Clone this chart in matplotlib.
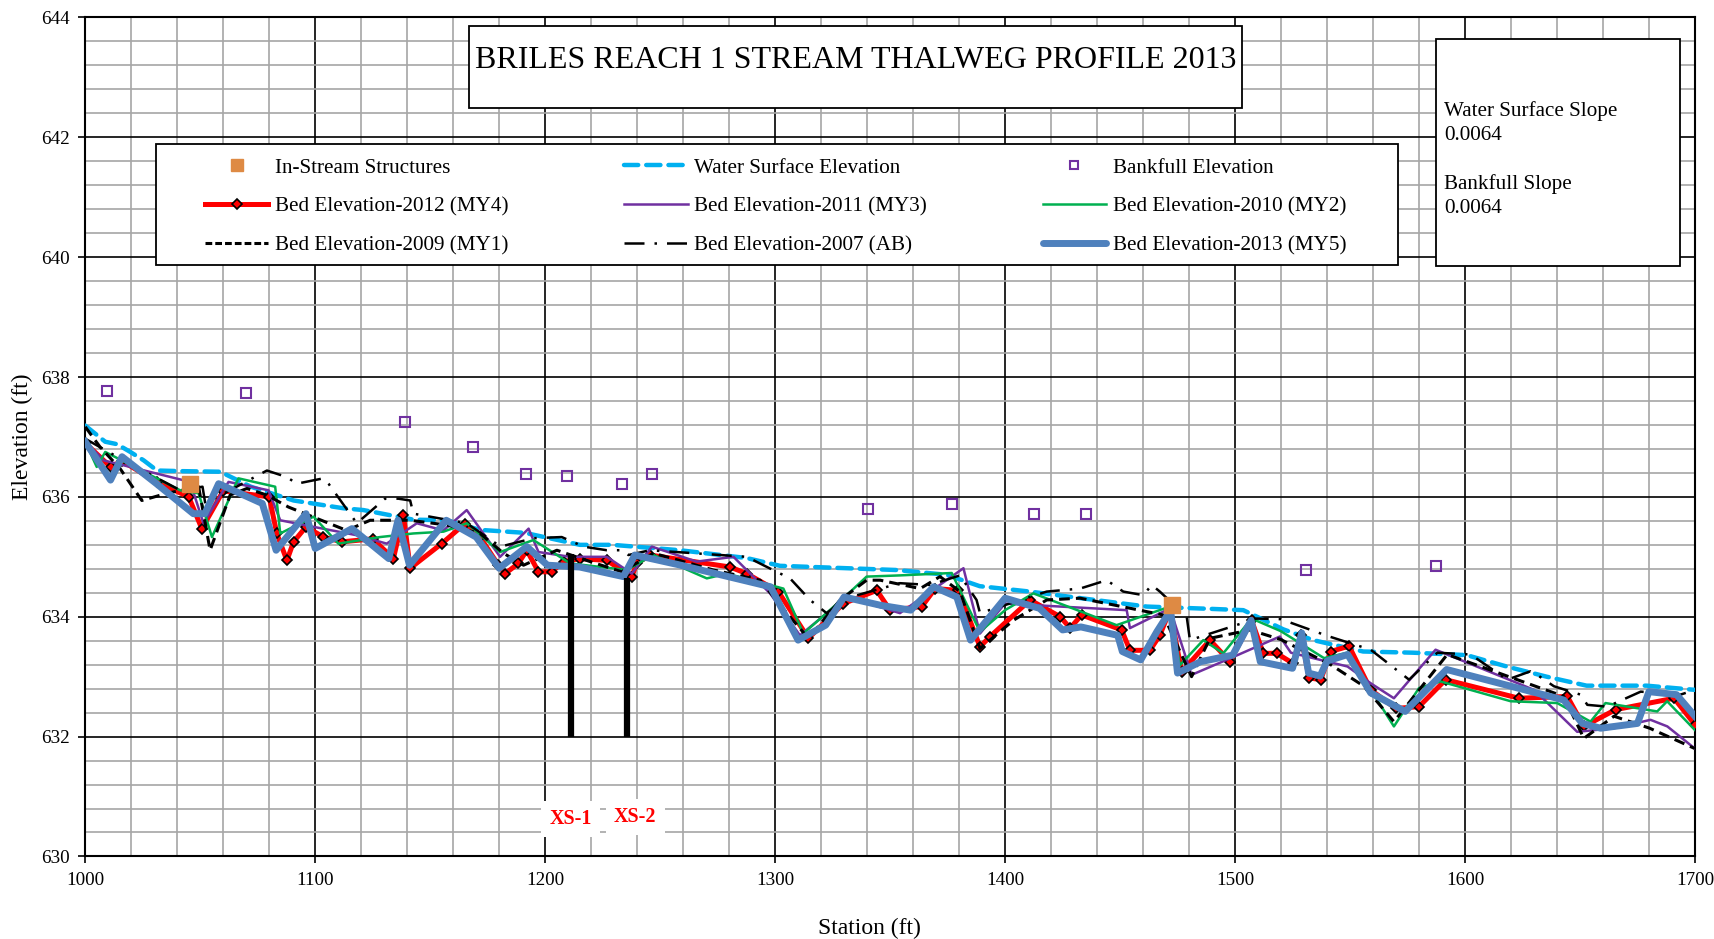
import matplotlib
matplotlib.use("Agg")
import matplotlib.pyplot as plt
from matplotlib.lines import Line2D
from matplotlib.patches import Rectangle
from matplotlib.ticker import MultipleLocator

plt.rcParams['font.family'] = ['Liberation Serif', 'DejaVu Serif']

# ---------------- data ----------------
structure_station = [1045.7, 1472.7]
structure_elev = [636.21, 634.20]

bankfull_station = [1009.5, 1069.9, 1138.9, 1168.8, 1191.6, 1209.7, 1233.5, 1246.3,
                    1340.5, 1377.1, 1412.8, 1435.1, 1530.7, 1587.3]
bankfull_elev = [637.76, 637.74, 637.25, 636.83, 636.39, 636.35, 636.21, 636.39,
                 635.79, 635.88, 635.71, 635.71, 634.78, 634.84]

ws_station = [1000, 1008.7, 1013.8, 1019.6, 1025.4, 1031.2, 1041.3, 1058.7, 1072, 1090.6,
              1112.3, 1121, 1142.7, 1157.2, 1171.6, 1191.2, 1215.1, 1229.2, 1258.6, 1287.6,
              1302.1, 1352.8, 1374.6, 1389, 1410.8, 1426.8, 1461.6, 1490.5, 1503.6, 1521,
              1534, 1555.7, 1577.5, 1600.7, 1618.1, 1635.5, 1652.9, 1679, 1700]
ws_elev = [637.19, 636.92, 636.88, 636.75, 636.61, 636.44, 636.43, 636.42, 636.17, 635.94,
           635.81, 635.78, 635.62, 635.61, 635.45, 635.40, 635.20, 635.20, 635.11, 634.98,
           634.85, 634.78, 634.70, 634.51, 634.42, 634.34, 634.17, 634.13, 634.11, 633.79,
           633.61, 633.42, 633.40, 633.36, 633.17, 633.00, 632.85, 632.85, 632.78]

bed2012_station = [1000, 1011, 1016, 1031, 1045, 1050.7, 1060, 1080, 1083.3, 1087.7,
                   1090.6, 1096, 1103.6, 1111.6, 1125, 1134, 1138.4, 1141.3, 1155, 1165,
                   1171.7, 1179.7, 1182.6, 1188.4, 1192, 1197.1, 1202.9, 1208, 1215.2, 1226.8,
                   1237.7, 1239.8, 1245.6, 1280.4, 1287.7, 1301.4, 1314.5, 1329.7, 1344.2, 1350,
                   1363.8, 1369.6, 1379.7, 1389.1, 1393.5, 1410.9, 1424, 1428.3, 1433.3, 1450.7,
                   1454.3, 1463, 1467.3, 1471.7, 1476.8, 1489.1, 1497.8, 1507.2, 1512.3, 1518.1,
                   1525.3, 1528.6, 1532.2, 1537.3, 1541.6, 1549.6, 1559, 1569.9, 1580, 1591.6,
                   1623.5, 1644.5, 1651.7, 1665.5, 1690.9, 1700]
bed2012_elev = [636.90, 636.50, 636.60, 636.25, 636.00, 635.47, 636.10, 636.00, 635.39, 634.94,
                635.25, 635.50, 635.33, 635.25, 635.30, 634.97, 635.69, 634.81, 635.22, 635.55,
                635.33, 634.86, 634.72, 634.89, 635.11, 634.75, 634.75, 634.92, 634.97, 634.94,
                634.67, 634.89, 635.03, 634.83, 634.72, 634.42, 633.64, 634.22, 634.44, 634.11,
                634.17, 634.47, 634.44, 633.50, 633.67, 634.28, 634.00, 633.81, 634.03, 633.78,
                633.44, 633.44, 633.69, 634.11, 633.08, 633.61, 633.25, 633.94, 633.39, 633.39,
                633.22, 633.70, 632.98, 632.95, 633.42, 633.51, 632.78, 632.47, 632.50, 632.95,
                632.64, 632.67, 632.17, 632.45, 632.64, 632.20]

bed2011_station = [1000, 1008, 1045.6, 1051.4, 1062.3, 1079.7, 1084.8, 1099.3, 1118.1, 1131.1,
                   1144.2, 1155.8, 1165.9, 1180.4, 1192.8, 1197.1, 1210.9, 1226.8, 1237.7, 1246.4,
                   1265.9, 1281.9, 1297.8, 1310.8, 1331.1, 1354.3, 1381.9, 1389.1, 1400, 1452.9,
                   1454.3, 1471.7, 1481.1, 1499.3, 1519.5, 1524.3, 1548.9, 1559, 1569.1, 1587.2,
                   1630, 1648.8, 1664.8, 1680.7, 1688, 1700]
bed2011_elev = [636.92, 636.61, 636.25, 635.56, 636.25, 636.11, 635.61, 635.50, 635.36, 635.22,
                635.56, 635.44, 635.78, 635.00, 635.47, 635.08, 635.00, 635.00, 634.72, 635.17,
                634.92, 635.00, 634.39, 633.69, 634.33, 634.06, 634.81, 633.72, 634.22, 634.11,
                633.81, 634.14, 633.03, 633.33, 633.67, 633.40, 633.17, 632.89, 632.64, 633.45,
                632.78, 632.08, 632.14, 632.28, 632.17, 631.80]

bed2010_station = [1000, 1005, 1008.7, 1041.3, 1049.3, 1055.1, 1066.6, 1082.6, 1084.8, 1099.3,
                   1110.1, 1128.2, 1142.7, 1155.8, 1165.9, 1180.4, 1194.9, 1210.9, 1235.5, 1247.1,
                   1270.3, 1279, 1303.6, 1312.3, 1331.1, 1339.8, 1354.3, 1376.8, 1380.4, 1389.1,
                   1400, 1412.3, 1448.5, 1471.7, 1476, 1486.2, 1494.9, 1507.2, 1519.9, 1538.7,
                   1548.9, 1569.1, 1580, 1589.4, 1619.9, 1640.1, 1654.6, 1661.1, 1683.6, 1687.9,
                   1700]
bed2010_elev = [636.92, 636.50, 636.75, 636.11, 636.06, 635.33, 636.31, 636.17, 635.39, 635.67,
                635.22, 635.33, 635.39, 635.42, 635.56, 635.08, 635.28, 634.89, 634.78, 635.03,
                634.64, 634.72, 634.47, 633.72, 634.36, 634.67, 634.69, 634.73, 634.44, 633.75,
                634.11, 634.39, 633.86, 634.17, 633.19, 633.61, 633.39, 633.97, 633.76, 633.31,
                633.40, 632.17, 632.81, 632.92, 632.59, 632.56, 632.25, 632.56, 632.42, 632.59,
                632.11]

bed2009_station = [1000, 1006.5, 1015.2, 1024.6, 1035.5, 1049.3, 1054.3, 1063, 1070.3, 1079,
                   1088.4, 1113.7, 1123.9, 1141.3, 1157.2, 1171.7, 1181.9, 1190.6, 1205.1, 1219.6,
                   1233.3, 1247.1, 1273.2, 1293.5, 1305.1, 1314.5, 1328.3, 1339.8, 1345.7, 1363.1,
                   1371.7, 1380.4, 1389.1, 1403.6, 1418.1, 1432.6, 1468.8, 1481.1, 1489.1, 1506.5,
                   1519.9, 1541.6, 1556.1, 1569.1, 1592.3, 1643, 1651.7, 1664.8, 1680.3, 1700]
bed2009_elev = [637.17, 636.83, 636.47, 635.94, 636.06, 636.17, 635.11, 636.03, 636.14, 636.03,
                635.83, 635.44, 635.61, 635.61, 635.53, 635.39, 635.06, 634.86, 635.11, 634.92,
                634.75, 635.06, 634.78, 634.61, 634.06, 633.64, 634.28, 634.61, 634.61, 634.47,
                634.67, 634.42, 633.47, 633.94, 634.28, 634.31, 634.03, 633.00, 633.64, 633.78,
                633.62, 633.20, 632.84, 632.25, 633.37, 632.67, 631.97, 632.34, 632.14, 631.80]

bed2007_station = [1000, 1015.2, 1041.3, 1051, 1052.2, 1079, 1087.7, 1092, 1103.6, 1105.8,
                   1118.1, 1130.4, 1136.2, 1141.3, 1142.7, 1165.9, 1180.6, 1194.9, 1207.2, 1216.7,
                   1226.8, 1234.1, 1236.2, 1245.6, 1287.7, 1294.9, 1306.5, 1315.2, 1322.4, 1331.1,
                   1354.3, 1367.4, 1380.4, 1387.6, 1389.1, 1418.1, 1432.6, 1444.2, 1451.4, 1460.1,
                   1463.8, 1467.3, 1479, 1480.4, 1509.4, 1519.9, 1540.2, 1559, 1575.7, 1588,
                   1602.5, 1618.4, 1628.5, 1631.4, 1638.7, 1650.3, 1653.2, 1661.9, 1676.4, 1693.7,
                   1700]
bed2007_elev = [636.97, 636.64, 636.11, 636.17, 635.89, 636.44, 636.33, 636.22, 636.31, 636.22,
                635.56, 635.97, 635.97, 635.94, 635.72, 635.56, 635.17, 635.31, 635.33, 635.17,
                635.11, 635.11, 635.03, 635.11, 635.00, 634.86, 634.64, 634.28, 634.06, 634.31,
                634.56, 634.53, 634.69, 634.28, 634.06, 634.42, 634.47, 634.61, 634.42, 634.36,
                634.53, 634.42, 634.00, 633.61, 633.97, 633.96, 633.68, 633.45, 632.95, 633.40,
                633.37, 632.95, 633.09, 633.03, 632.84, 632.70, 632.53, 632.50, 632.75, 632.70,
                632.78]

bed2013_station = [1000, 1011, 1016, 1031, 1047, 1052, 1058, 1077, 1083, 1096,
                   1100, 1116, 1132, 1136, 1141, 1157, 1170, 1180, 1192, 1201,
                   1215, 1234, 1239, 1259, 1298, 1310, 1322, 1330, 1346, 1359,
                   1369, 1379, 1385, 1400, 1415, 1425, 1433, 1449, 1451, 1459,
                   1466, 1472, 1475, 1485, 1499, 1507, 1511, 1525, 1529, 1532,
                   1537, 1540, 1549, 1559, 1574, 1592, 1643, 1651, 1659, 1675,
                   1680, 1692, 1700]
bed2013_elev = [636.92, 636.28, 636.67, 636.22, 635.72, 635.72, 636.22, 635.89, 635.11, 635.72,
                635.14, 635.47, 634.97, 635.61, 634.86, 635.61, 635.33, 634.81, 635.17, 634.86,
                634.83, 634.67, 635.03, 634.86, 634.50, 633.61, 633.86, 634.33, 634.19, 634.11,
                634.50, 634.33, 633.61, 634.31, 634.14, 633.78, 633.83, 633.69, 633.42, 633.28,
                633.75, 634.11, 633.06, 633.25, 633.36, 633.94, 633.25, 633.14, 633.73, 633.06,
                633.01, 633.26, 633.37, 632.73, 632.42, 633.12, 632.61, 632.22, 632.14, 632.22,
                632.75, 632.70, 632.34]

xs_station = [1211.4, 1235.7]
xs_top = [635.05, 634.65]
xs_bottom = [632.0, 632.0]
xs_labels = ["XS-1", "XS-2"]
xs_label_station = [1211.1, 1239.2]
xs_label_elev = [630.62, 630.66]

title_text = "BRILES REACH 1 STREAM THALWEG PROFILE 2013"
slope_text = "Water Surface Slope\n0.0064\n\nBankfull Slope\n0.0064"

# ---------------- figure ----------------
fig = plt.figure(figsize=(17.15, 9.39), dpi=100)
ax = fig.add_axes([0.0497, 0.0879, 0.9386, 0.8935])
ax.set_xlim(1000, 1700)
ax.set_ylim(630, 644)
ax.xaxis.set_major_locator(MultipleLocator(100))
ax.xaxis.set_minor_locator(MultipleLocator(20))
ax.yaxis.set_major_locator(MultipleLocator(2))
ax.yaxis.set_minor_locator(MultipleLocator(0.4))
ax.set_axisbelow(True)
ax.grid(which='minor', color='#A6A6A6', linewidth=1.2)
ax.grid(which='major', color='black', linewidth=1.2)
ax.tick_params(which='minor', length=0)
ax.tick_params(which='major', direction='out', length=5, width=1.2, labelsize=13.8, pad=6)
for s in ax.spines.values():
    s.set_linewidth(1.5)

# series
ax.plot(ws_station, ws_elev, color='#00B0F0', lw=3.2, ls=(0, (3.2, 1.8)),
        dash_capstyle='round', zorder=3)
ax.plot(bed2012_station, bed2012_elev, color='#FF0000', lw=3.6, marker='D', ms=5,
        mfc='#FF0000', mec='black', mew=1.2, zorder=4)
ax.plot(bed2011_station, bed2011_elev, color='#7030A0', lw=1.8, zorder=5)
ax.plot(bed2010_station, bed2010_elev, color='#00B050', lw=1.8, zorder=5)
ax.plot(bed2009_station, bed2009_elev, color='black', lw=2.2, ls=(0, (3.5, 2.0)), zorder=6)
ax.plot(bed2007_station, bed2007_elev, color='black', lw=1.8, ls=(0, (8, 4, 1, 4)), zorder=6)
ax.plot(bed2013_station, bed2013_elev, color='#4F81BD', lw=5.0, solid_joinstyle='round', zorder=7)
ax.plot(bankfull_station, bankfull_elev, ls='none', marker='s', ms=6.5, mfc='none',
        mec='#7030A0', mew=1.5, zorder=8)
ax.plot(structure_station, structure_elev, ls='none', marker='s', ms=11,
        color='#DE8A44', zorder=9)

# cross-section bars and labels
ax.vlines(xs_station, xs_bottom, xs_top, colors='black', lw=4.5, zorder=8)
for st, el, lab in zip(xs_label_station, xs_label_elev, xs_labels):
    ax.text(st, el, lab, color='#FF0000', fontsize=14.5, fontweight='bold', ha='center',
            va='center', zorder=10,
            bbox=dict(boxstyle='square,pad=0.4', fc='white', ec='none'))

ax.set_xlabel("Station (ft)", fontsize=17)
ax.set_ylabel("Elevation (ft)", fontsize=17)
ax.xaxis.set_label_coords(0.487, -0.0734)
ax.yaxis.set_label_coords(-0.0324, 0.5)

# title box
ax.add_patch(Rectangle((0.2385, 0.8918), 0.4804, 0.0977, transform=ax.transAxes,
                       fc='white', ec='black', lw=1.3, zorder=20))
ax.text(0.4787, 0.9486, title_text, transform=ax.transAxes, fontsize=23,
        ha='center', va='center', zorder=21)

# slope box
ax.add_patch(Rectangle((0.839, 0.7038), 0.1517, 0.2706, transform=ax.transAxes,
                       fc='white', ec='black', lw=1.3, zorder=20))
ax.text(0.8443, 0.900, slope_text, transform=ax.transAxes, fontsize=15.2,
        ha='left', va='top', linespacing=1.35, zorder=21)

# legend frame
ax.add_patch(Rectangle((0.0442, 0.7054), 0.7712, 0.1433, transform=ax.transAxes,
                       fc='white', ec='black', lw=1.3, zorder=19))

# legend
h_struct = Line2D([], [], ls='none', marker='s', ms=9, color='#DE8A44')
h_ws = Line2D([], [], color='#00B0F0', lw=3.2, ls=(0, (3.2, 1.8)), dash_capstyle='round')
h_bank = Line2D([], [], ls='none', marker='s', ms=6, mfc='none', mec='#7030A0', mew=1.5)
h_2012 = Line2D([], [], color='#FF0000', lw=3.6, marker='D', ms=5, mfc='#FF0000',
                mec='black', mew=1.2, markevery=[1])
h_2011 = Line2D([], [], color='#7030A0', lw=1.8)
h_2010 = Line2D([], [], color='#00B050', lw=1.8)
h_2009 = Line2D([], [], color='black', lw=2.2, ls=(0, (2.2, 1.0)))
h_2007 = Line2D([], [], color='black', lw=1.8, ls=(0, (8, 4, 1, 4)))
h_2013 = Line2D([], [], color='#4F81BD', lw=5.0, solid_capstyle='round')
handles = [h_struct, h_2012, h_2009, h_ws, h_2011, h_2007, h_bank, h_2010, h_2013]
labels = ["In-Stream Structures", "Bed Elevation-2012 (MY4)", "Bed Elevation-2009 (MY1)",
          "Water Surface Elevation", "Bed Elevation-2011 (MY3)", "Bed Elevation-2007 (AB)",
          "Bankfull Elevation", "Bed Elevation-2010 (MY2)", "Bed Elevation-2013 (MY5)"]
leg = ax.legend(handles, labels, ncol=3, loc='upper left',
                bbox_to_anchor=(0.0744, 0.60, 0.709, 0.2325), mode='expand',
                fontsize=15.2, handlelength=3.0, handletextpad=0.32, labelspacing=0.9,
                borderpad=0.0, borderaxespad=0.0, frameon=False, numpoints=1)
leg.set_zorder(21)

fig.savefig("out.png", dpi=100)
